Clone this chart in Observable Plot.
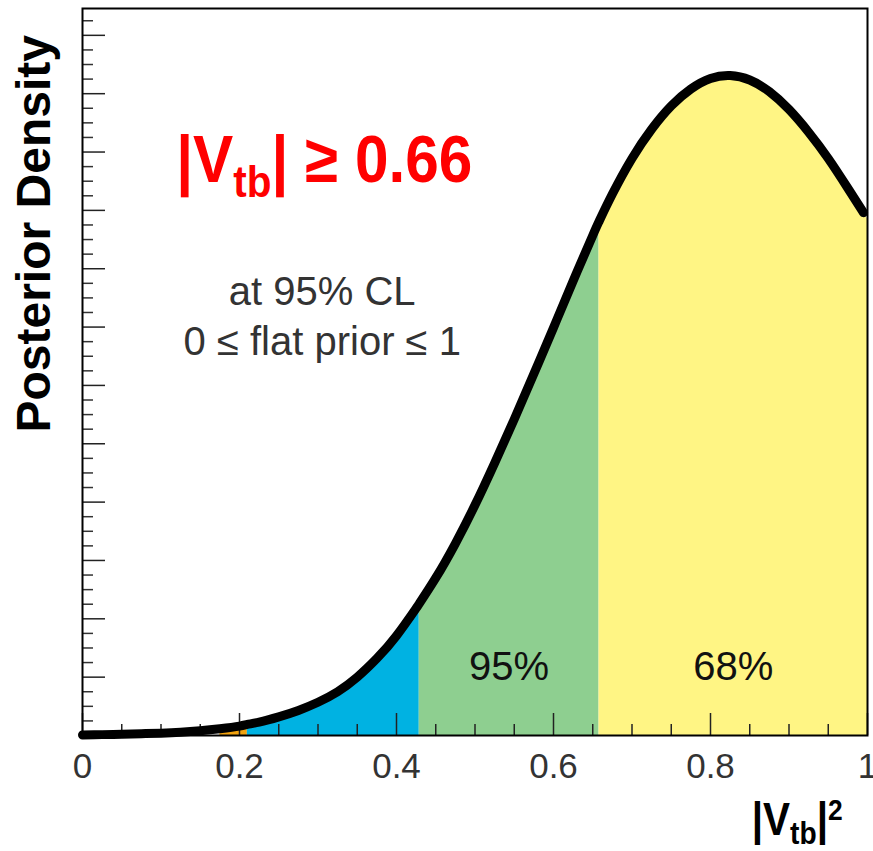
<!DOCTYPE html>
<html>
<head>
<meta charset="utf-8">
<script src="https://cdn.jsdelivr.net/npm/d3@7"></script>
<script src="https://cdn.jsdelivr.net/npm/@observablehq/plot@0.6"></script>
<style>
  html, body { margin: 0; padding: 0; background: #fff; }
</style>
</head>
<body>
<div id="chart"></div>
<script>
// ---- data ----
const xValues = [0, 0.025, 0.05, 0.075, 0.1, 0.125, 0.15, 0.175, 0.2, 0.21, 0.225, 0.25, 0.275, 0.3, 0.325, 0.35, 0.375, 0.4, 0.425, 0.429, 0.45, 0.475, 0.5, 0.525, 0.55, 0.575, 0.6, 0.625, 0.65, 0.658, 0.675, 0.7, 0.725, 0.75, 0.775, 0.8, 0.825, 0.85, 0.875, 0.9, 0.925, 0.95, 0.975, 0.995, 1.0];
const densityValues = [0.01, 0.015, 0.02, 0.03, 0.04, 0.055, 0.08, 0.115, 0.16, 0.19, 0.23, 0.32, 0.43, 0.57, 0.75, 1.0, 1.32, 1.71, 2.18, 2.26, 2.70, 3.29, 3.95, 4.67, 5.42, 6.20, 6.99, 7.79, 8.57, 8.81, 9.28, 9.89, 10.39, 10.79, 11.08, 11.26, 11.31, 11.235, 11.035, 10.73, 10.34, 9.89, 9.38, 8.96, 8.85];
const lineEnd = 0.995;

const bandStart = [0.175, 0.21, 0.429, 0.658];
const bandEnd   = [0.21, 0.429, 0.658, 1.0];
const bandColor = ["#f2a30f", "#00b2e2", "#8ecf90", "#fff584"];
const bandLabel = ["", "", "95%", "68%"];

const xTickLabels = [0, 0.2, 0.4, 0.6, 0.8, 1];
const yDomain = [0, 12.46];

const titleMain = "|V", titleSub = "tb", titleRest = "| \u2265 0.66";
const noteLines = ["at 95% CL", "0 \u2264 flat prior \u2264 1"];
const yAxisLabel = "Posterior Density";
const xLabelMain = "|V", xLabelSub = "tb", xLabelBar = "|", xLabelSup = "2";

// ---- build ----
const FONT = "'Liberation Sans', Arial, Helvetica, sans-serif";
const W = 873, H = 851, mL = 82, mR = 6, mT = 8, mB = 116;
const fw = W - mL - mR, fh = H - mT - mB;

const curve = xValues.map((x, i) => ({x, y: densityValues[i]}));
const bands = bandStart.map((x0, i) => ({x0, x1: bandEnd[i], color: bandColor[i], label: bandLabel[i]}));

const yMajor = d3.range(0, 12.5, 1);
const yMinor = d3.range(0, yDomain[1], 0.25).filter(v => Math.abs(v - Math.round(v)) > 1e-6);
const xAll = d3.range(0, 1.0001, 0.05);
const xMinor = xAll.filter(v => Math.abs(v * 5 - Math.round(v * 5)) > 1e-6);

const plot = Plot.plot({
  width: W, height: H,
  marginLeft: mL, marginRight: mR, marginTop: mT, marginBottom: mB,
  x: {domain: [0, 1]},
  y: {domain: yDomain, axis: null},
  style: {fontFamily: FONT, background: "#fff", color: "#333", overflow: "visible"},
  marks: [
    bands.map(b => Plot.areaY(
      curve.filter(d => d.x >= b.x0 - 1e-9 && d.x <= b.x1 + 1e-9),
      {x: "x", y: "y", fill: b.color, curve: "natural"})),
    Plot.tickX(xMinor, {x: d => d, stroke: "#222", strokeWidth: 1.5, insetTop: fh - 11}),
    Plot.tickX(xTickLabels, {x: d => d, stroke: "#222", strokeWidth: 1.5, insetTop: fh - 22}),
    Plot.tickY(yMinor, {y: d => d, stroke: "#333", strokeWidth: 1.5, insetRight: fw - 11}),
    Plot.tickY(yMajor, {y: d => d, stroke: "#222", strokeWidth: 1.5, insetRight: fw - 23}),
    Plot.line(curve.filter(d => d.x <= lineEnd + 1e-9),
      {x: "x", y: "y", stroke: "#000", strokeWidth: 9, curve: "natural"}),
    Plot.frame({stroke: "#000", strokeWidth: 2}),
    Plot.axisX(xTickLabels, {tickSize: 0, tickPadding: 18, fontSize: 35, fill: "#333",
      tickFormat: d3.format("~g"), label: null}),
    Plot.text(bands.filter(b => b.label), {
      x: b => (b.x0 + b.x1) / 2, y: () => 1.17, text: "label",
      fontSize: 40, fill: "#111", textAnchor: "middle", lineAnchor: "middle"})
  ]
});

document.getElementById("chart").appendChild(plot);

// ---- rich-text annotations ----
const svg = d3.select(plot);
const sx = plot.scale("x"), sy = plot.scale("y");

// title |V_tb| >= 0.66
const gT = svg.append("g")
  .attr("transform", `translate(${sx.apply(0.12)},${sy.apply(9.48)}) scale(0.9,1)`);
const tT = gT.append("text")
  .attr("text-anchor", "start")
  .attr("font-family", FONT).attr("font-weight", "bold")
  .attr("font-size", 67).attr("fill", "#ff0000");
tT.append("tspan").text(titleMain);
tT.append("tspan").attr("font-size", 45).attr("dy", 15).text(titleSub);
tT.append("tspan").attr("dy", -15).text(titleRest);

// notes
noteLines.forEach((s, i) => {
  svg.append("text")
    .attr("x", sx.apply(0.306)).attr("y", sy.apply(i === 0 ? 7.37 : 6.51))
    .attr("text-anchor", "middle")
    .attr("font-family", FONT).attr("font-size", 40).attr("fill", "#333")
    .text(s);
});

// y label
svg.append("text")
  .attr("transform", `translate(50,${sy.apply(8.59)}) rotate(-90)`)
  .attr("text-anchor", "middle")
  .attr("font-family", FONT).attr("font-weight", "bold")
  .attr("font-size", 48).attr("fill", "#000")
  .text(yAxisLabel);

// x label |V_tb|^2
const gX = svg.append("g")
  .attr("transform", `translate(${sx.apply(0.969)},${sy.apply(-1.71)}) scale(0.88,1)`);
const tX = gX.append("text")
  .attr("text-anchor", "end")
  .attr("font-family", FONT).attr("font-weight", "bold")
  .attr("font-size", 46).attr("fill", "#000");
tX.append("tspan").text(xLabelMain);
tX.append("tspan").attr("font-size", 32).attr("dy", 9).text(xLabelSub);
tX.append("tspan").attr("dy", -9).text(xLabelBar);
tX.append("tspan").attr("font-size", 30).attr("dy", -15).text(xLabelSup);
</script>
</body>
</html>
